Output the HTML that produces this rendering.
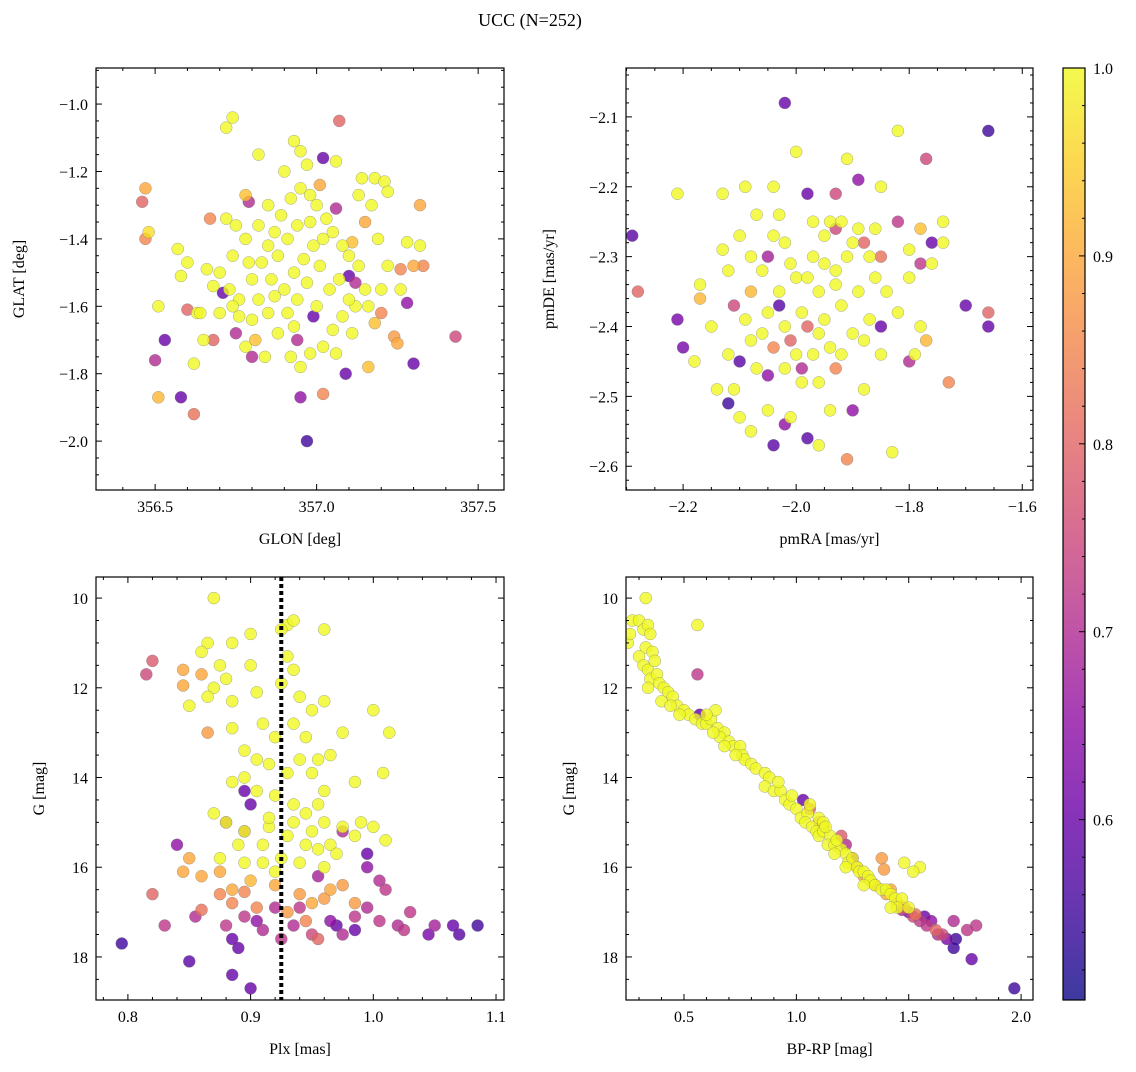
<!DOCTYPE html>
<html><head><meta charset="utf-8">
<style>
body{margin:0;background:#fff;}
svg text{font-family:"Liberation Serif","DejaVu Serif",serif;fill:#000;}
</style></head>
<body>
<svg id="fig" width="1136" height="1067" viewBox="0 0 1136 1067" xmlns="http://www.w3.org/2000/svg">
<text x="530" y="26" font-size="18" text-anchor="middle">UCC (N=252)</text>
</svg>
<script>
// ---- Panel 1: GLON / GLAT ----
const glonX=[356.47,356.46,356.47,356.48,356.50,356.53,356.51,356.58,356.62,356.60,356.51,356.57,356.58,356.63,356.62,356.65,356.67,356.68,356.72,356.74,356.71,356.75,356.79,356.78,356.82,356.93,356.95,356.94,356.97,356.95,356.99,357.02,357.07,357.02,357.06,357.10,357.09,357.12,357.11,357.15,357.16,357.18,357.20,357.24,357.25,357.26,357.30,357.28,357.30,357.33,357.32,357.43,357.01,356.81,356.80,
356.72,356.75,356.78,356.74,356.70,356.66,356.68,356.73,356.76,356.74,356.80,356.83,356.85,356.87,356.89,356.92,356.95,356.98,357.00,357.03,357.05,357.08,357.10,357.13,357.15,357.12,357.08,357.05,357.02,356.98,356.95,356.92,356.88,356.85,356.82,356.80,356.78,356.84,356.90,356.93,356.96,356.99,357.01,356.97,356.94,356.91,356.88,356.86,357.04,357.07,357.10,357.14,357.18,357.21,357.22,357.17,357.19,357.22,357.26,357.28,357.32,357.20,357.16,356.60,356.64,356.85,356.90,356.97,357.06,357.13,356.82,356.79,356.91,356.94,356.98,357.02,356.87,357.00,356.93,357.06,357.11,356.76,356.70];
const glatY=[-1.25,-1.29,-1.40,-1.38,-1.76,-1.70,-1.87,-1.87,-1.92,-1.61,-1.60,-1.43,-1.51,-1.62,-1.77,-1.70,-1.34,-1.70,-1.07,-1.04,-1.56,-1.68,-1.29,-1.27,-1.15,-1.11,-1.14,-1.70,-2.00,-1.87,-1.63,-1.16,-1.05,-1.86,-1.31,-1.51,-1.80,-1.53,-1.41,-1.35,-1.78,-1.65,-1.62,-1.69,-1.71,-1.49,-1.77,-1.59,-1.48,-1.48,-1.30,-1.69,-1.24,-1.70,-1.75,
-1.34,-1.36,-1.40,-1.45,-1.50,-1.49,-1.54,-1.55,-1.58,-1.60,-1.52,-1.47,-1.42,-1.38,-1.33,-1.28,-1.25,-1.27,-1.30,-1.34,-1.38,-1.42,-1.45,-1.48,-1.55,-1.60,-1.63,-1.67,-1.72,-1.74,-1.78,-1.75,-1.68,-1.62,-1.58,-1.64,-1.72,-1.75,-1.55,-1.50,-1.46,-1.42,-1.48,-1.53,-1.58,-1.62,-1.45,-1.52,-1.55,-1.52,-1.58,-1.22,-1.22,-1.23,-1.26,-1.30,-1.40,-1.48,-1.55,-1.41,-1.42,-1.55,-1.60,-1.47,-1.62,-1.30,-1.20,-1.18,-1.17,-1.27,-1.36,-1.47,-1.40,-1.36,-1.35,-1.40,-1.57,-1.60,-1.66,-1.74,-1.68,-1.63,-1.62];
const glonP=[0.9,0.8,0.85,0.97,0.7,0.6,0.92,0.6,0.82,0.8,1,1,1,1,1,1,0.85,0.8,1,1,0.6,0.7,0.7,0.93,1,1,1,0.7,0.55,0.65,0.6,0.6,0.8,0.85,0.7,0.6,0.6,0.7,0.93,0.9,0.93,0.93,0.85,0.88,0.9,0.85,0.6,0.65,0.9,0.85,0.9,0.75,0.9,0.93,0.7];

// ---- Panel 2: pmRA / pmDE ----
const pmraX=[-2.29,-2.28,-2.21,-2.20,-2.10,-2.12,-2.11,-2.02,-1.98,-1.93,-1.89,-1.77,-1.66,-1.82,-1.78,-1.76,-1.70,-1.66,-1.66,-1.73,-1.85,-1.85,-1.80,-2.05,-2.05,-2.03,-1.99,-2.02,-2.04,-1.98,-1.91,-1.90,-1.88,-1.93,-2.01,-2.04,-1.93,-1.78,-2.08,-2.17,-1.77,-1.98,
-2.21,-2.13,-2.09,-2.04,-2.00,-1.91,-1.85,-1.82,-1.74,-1.76,-1.80,-1.82,-1.84,-1.79,-1.78,-1.83,-1.88,-1.94,-1.96,-2.01,-2.05,-2.08,-2.11,-2.10,-2.14,-2.18,-2.17,-2.12,-2.10,-2.07,-2.03,-2.02,-2.06,-2.00,-1.97,-1.95,-1.92,-1.90,-1.87,-1.93,-1.96,-1.99,-2.02,-2.06,-2.08,-2.05,-1.95,-1.92,-1.89,-1.86,-1.90,-1.94,-1.97,-2.00,-1.99,-1.96,-1.92,-1.87,-2.03,-1.98,-1.95,-2.01,-1.94,-1.97,-2.04,-2.08,-2.13,-2.15,-2.12,-1.91,-1.88,-1.85,-2.07,-2.09,-2.02,-1.96,-1.93,-1.89,-1.86,-1.80,-1.74];
const pmdeY=[-2.27,-2.35,-2.39,-2.43,-2.45,-2.51,-2.37,-2.08,-2.21,-2.21,-2.19,-2.16,-2.12,-2.25,-2.31,-2.28,-2.37,-2.38,-2.40,-2.48,-2.40,-2.30,-2.45,-2.47,-2.30,-2.37,-2.46,-2.54,-2.57,-2.56,-2.59,-2.52,-2.28,-2.26,-2.42,-2.43,-2.46,-2.26,-2.35,-2.36,-2.42,-2.40,
-2.21,-2.21,-2.20,-2.20,-2.15,-2.16,-2.20,-2.12,-2.25,-2.31,-2.33,-2.38,-2.35,-2.44,-2.40,-2.58,-2.49,-2.52,-2.57,-2.53,-2.52,-2.55,-2.49,-2.53,-2.49,-2.45,-2.34,-2.32,-2.27,-2.24,-2.24,-2.28,-2.32,-2.33,-2.30,-2.27,-2.25,-2.28,-2.30,-2.32,-2.35,-2.38,-2.40,-2.41,-2.42,-2.38,-2.39,-2.37,-2.35,-2.33,-2.41,-2.43,-2.44,-2.44,-2.48,-2.48,-2.44,-2.39,-2.35,-2.33,-2.31,-2.31,-2.25,-2.25,-2.27,-2.30,-2.29,-2.40,-2.44,-2.30,-2.42,-2.44,-2.46,-2.39,-2.46,-2.41,-2.34,-2.26,-2.26,-2.29,-2.28];
const pmP=[0.58,0.8,0.62,0.62,0.58,0.55,0.75,0.6,0.6,0.75,0.65,0.75,0.55,0.72,0.72,0.6,0.6,0.8,0.6,0.85,0.6,0.82,0.7,0.65,0.68,0.58,0.7,0.65,0.58,0.58,0.85,0.65,0.8,0.75,0.8,0.85,0.85,0.93,0.92,0.92,0.92,0.8];

// ---- Panel 3: Plx / G ----
const plxX=[0.87,0.90,0.93,0.935,0.96,0.925,0.885,0.865,0.86,0.875,0.90,0.93,0.935,0.925,0.88,0.87,0.865,0.85,0.885,0.905,0.94,0.95,0.96,0.935,0.91,0.885,0.92,0.945,0.955,0.975,1.00,1.013,0.895,0.905,0.915,0.93,0.94,0.95,0.96,0.985,1.008,0.885,0.895,0.905,0.92,0.935,0.945,0.96,0.975,0.99,1.0,1.01,0.87,0.88,0.895,0.915,0.93,0.945,0.955,0.965,0.985,0.97,0.925,0.91,0.89,0.875,0.895,0.94,0.91,0.955,0.965,0.915,0.95,0.92,0.96,0.935,
0.845,0.86,0.845,0.865,0.85,0.845,0.86,0.875,0.885,0.90,0.92,0.94,0.95,0.96,0.965,0.975,0.985,0.905,0.885,0.895,0.86,0.875,0.93,0.945,0.955,0.95,0.82,0.82,0.815,
0.795,0.83,0.84,0.85,0.855,0.88,0.89,0.885,0.885,0.895,0.90,0.905,0.91,0.92,0.925,0.935,0.94,0.955,0.965,0.975,0.985,0.985,0.995,1.005,1.005,1.01,1.02,1.025,1.03,1.045,1.05,1.065,1.07,1.085,0.995,0.995,0.975,0.895,0.90,0.97,0.88,0.895];
const plxG=[10.0,10.8,10.6,10.5,10.7,10.7,11.0,11.0,11.2,11.5,11.5,11.3,11.6,11.9,11.8,12.0,12.2,12.4,12.3,12.1,12.2,12.5,12.3,12.8,12.8,12.9,13.1,13.1,13.6,13.0,12.5,13.0,13.4,13.6,13.7,13.9,13.6,13.9,14.3,14.1,13.9,14.1,14.0,14.3,14.4,14.6,14.8,15.0,15.1,15.0,15.1,15.4,14.8,15.0,15.2,15.1,15.3,15.5,15.6,15.5,15.3,15.7,15.8,15.5,15.5,15.8,15.9,15.9,15.9,14.6,13.5,14.9,15.2,16.1,16.0,15.0,
11.6,11.7,11.95,13.0,15.8,16.1,16.2,16.1,16.5,16.3,16.4,16.6,16.8,16.7,16.5,16.4,16.8,16.9,16.8,16.55,16.95,16.6,17.0,17.2,17.6,17.5,16.6,11.4,11.7,
17.7,17.3,15.5,18.1,17.1,17.3,17.8,17.6,18.4,17.1,18.7,17.2,17.4,16.9,17.6,17.3,16.9,16.2,17.2,17.5,17.1,17.4,16.9,17.2,16.3,16.5,17.3,17.4,17.0,17.5,17.3,17.3,17.5,17.3,15.7,16.0,15.2,14.3,14.6,17.3,15.0,15.2];
const plxP=[1,1,1,1,1,1,1,1,1,1,1,1,1,1,1,1,1,1,1,1,1,1,1,1,1,1,1,1,1,1,1,1,1,1,1,1,1,1,1,1,1,1,1,1,1,1,1,1,1,1,1,1,1,1,1,1,1,1,1,1,1,1,1,1,1,1,1,1,1,1,1,1,1,1,1,1,
0.9,0.9,0.9,0.88,0.9,0.9,0.9,0.9,0.9,0.92,0.9,0.88,0.9,0.88,0.9,0.88,0.88,0.85,0.85,0.85,0.82,0.85,0.88,0.85,0.8,0.75,0.8,0.78,0.75,
0.55,0.72,0.65,0.58,0.7,0.72,0.6,0.6,0.6,0.72,0.6,0.65,0.7,0.7,0.72,0.7,0.72,0.68,0.65,0.7,0.72,0.6,0.7,0.72,0.7,0.72,0.7,0.72,0.72,0.62,0.68,0.6,0.58,0.55,0.6,0.65,0.7,0.6,0.6,0.6,0.7,0.72];

// ---- Panel 4: BP-RP / G ----
const bprpX=[0.33,0.27,0.30,0.25,0.32,0.34,0.35,0.33,0.30,0.36,0.32,0.34,0.37,0.35,0.38,0.39,0.34,0.41,0.43,0.40,0.45,0.47,0.44,0.50,0.52,0.55,0.48,0.58,0.60,0.62,0.64,0.65,0.68,0.66,0.70,0.72,0.68,0.75,0.76,0.77,0.80,0.82,0.86,0.88,0.86,0.90,0.93,0.95,0.97,0.98,1.00,1.02,1.05,1.04,1.07,1.09,1.10,1.12,1.15,1.14,1.17,1.20,1.22,1.23,1.25,1.27,1.28,1.30,1.32,1.33,1.35,1.38,1.40,1.42,1.44,1.47,1.45,1.50,1.55,1.48,1.52,1.06,1.10,1.12,1.18,1.13,0.56,0.60,0.63,0.73,0.92,1.17,1.22,1.30,1.42,0.26,
0.56,0.57,1.03,1.06,1.10,1.20,1.22,1.25,1.30,1.35,1.40,1.45,1.38,1.39,1.47,1.50,1.52,1.55,1.57,1.58,1.60,1.62,1.63,1.65,1.67,1.70,1.71,1.70,1.76,1.80,1.78,1.97,1.42,1.33,1.48,1.27,1.53,1.12];
const bprpG=[10.0,10.5,10.5,11.0,10.7,10.6,10.8,11.1,11.3,11.2,11.5,11.6,11.4,11.8,11.7,11.9,12.0,12.0,12.1,12.3,12.2,12.4,12.4,12.5,12.6,12.7,12.6,12.8,12.8,12.7,12.5,12.9,13.0,13.1,13.2,13.3,13.3,13.3,13.5,13.6,13.7,13.8,13.9,14.0,14.2,14.3,14.3,14.5,14.6,14.4,14.7,14.9,14.8,15.0,15.1,15.2,15.3,15.2,15.3,15.5,15.5,15.6,15.7,15.9,15.8,16.0,16.1,16.1,16.2,16.3,16.4,16.5,16.5,16.6,16.7,16.7,16.9,16.9,16.0,15.9,16.1,14.6,14.9,15.0,15.4,15.1,10.6,12.6,13.0,13.5,14.1,15.7,16.0,16.4,16.9,10.8,
11.7,12.6,14.5,14.7,15.0,15.3,15.5,15.8,16.2,16.4,16.6,16.8,15.8,16.05,16.95,17.0,17.1,17.2,17.1,17.3,17.2,17.4,17.5,17.5,17.6,17.2,17.6,17.8,17.4,17.3,18.05,18.7,16.5,16.3,16.9,16.0,17.05,15.1];
const bprpP=[1,1,1,1,1,1,1,1,1,1,1,1,1,1,1,1,1,1,1,1,1,1,1,1,1,1,1,1,1,1,1,1,1,1,1,1,1,1,1,1,1,1,1,1,1,1,1,1,1,1,1,1,1,1,1,1,1,1,1,1,1,1,1,1,1,1,1,1,1,1,1,1,1,1,1,1,1,1,1,1,1,1,1,1,1,1,1,1,1,1,1,1,1,1,1,1,
0.72,0.6,0.6,0.8,0.85,0.78,0.7,0.65,0.88,0.88,0.9,0.88,0.88,0.88,0.7,0.62,0.75,0.72,0.6,0.72,0.65,0.8,0.7,0.75,0.62,0.7,0.55,0.55,0.72,0.72,0.6,0.55,0.9,0.9,0.8,0.88,0.82,0.82];

const cbTicks=[0.6,0.7,0.8,0.9,1.0];
const plxCut=0.925;

const NS="http://www.w3.org/2000/svg";
const svg=document.getElementById('fig');
const VMIN=0.504,VMAX=1.0;
const stops=[[13,8,135],[65,4,157],[106,0,168],[143,13,164],[177,42,144],[204,71,120],[225,100,98],[242,132,75],[252,166,54],[252,206,37],[240,249,33]];
function cmap(v){if(typeof v!=='number'||isNaN(v))v=1;let t=(v-VMIN)/(VMAX-VMIN);t=Math.max(0,Math.min(1,t));const f=t*10,i=Math.min(9,Math.floor(f)),r=f-i;
 const a=stops[i],b=stops[i+1];return `rgb(${a.map((c,k)=>Math.round(c+(b[k]-c)*r)).join(',')})`;}
function el(tag,attrs,parent){const e=document.createElementNS(NS,tag);for(const k in attrs)e.setAttribute(k,attrs[k]);(parent||svg).appendChild(e);return e;}
function fmt(v,d){return (v<0?'\u2212':'')+Math.abs(v).toFixed(d);}

function panel(o){
 const g=el('g',{});
 
 
 const sx=v=>o.L+(v-o.x0)/(o.x1-o.x0)*(o.R-o.L);
 const sy=v=>o.T+(v-o.y1)/(o.y0-o.y1)*(o.B-o.T);
 const clipId='c'+o.name;
 const cp=el('clipPath',{id:clipId},g);el('rect',{x:o.L,y:o.T,width:o.R-o.L,height:o.B-o.T},cp);
 const pg=el('g',{'clip-path':`url(#${clipId})`},g);
 const n=Math.min(o.xs.length,o.ys.length);
 const pv=i=>(typeof o.ps[i]==='number'?o.ps[i]:1);
 const idx=[];for(let i=0;i<n;i++)idx.push(i);
 idx.sort((a,b)=>pv(a)-pv(b));
 idx.forEach(i=>{const c=el('circle',{cx:sx(o.xs[i]),cy:sy(o.ys[i]),r:6,fill:cmap(pv(i)),'fill-opacity':0.8,stroke:'#777','stroke-width':0.4,'stroke-opacity':0.8},pg);
  
  });
 if(o.vline!==undefined){const l=el('line',{x1:sx(o.vline),x2:sx(o.vline),y1:o.T,y2:o.B,stroke:'#000','stroke-width':4,'stroke-dasharray':'4,3'},pg);
  
  }
 const fr=el('rect',{x:o.L,y:o.T,width:o.R-o.L,height:o.B-o.T,fill:'none',stroke:'#000','stroke-width':1.2},g);
 
 
 const tk=el('g',{stroke:'#000','stroke-width':1},g);
 const eps=1e-9;
 const xlo=Math.min(o.x0,o.x1),xhi=Math.max(o.x0,o.x1);
 for(let k=Math.ceil(xlo/o.xmin-eps);k*o.xmin<=xhi+eps;k++){const v=k*o.xmin,X=sx(v);
  const maj=Math.abs(v/o.xmaj-Math.round(v/o.xmaj))<1e-6,len=maj?6:3;
  el('line',{x1:X,x2:X,y1:o.B,y2:o.B-len},tk);el('line',{x1:X,x2:X,y1:o.T,y2:o.T+len},tk);
  if(maj){const t=el('text',{x:X,y:o.B+22,'font-size':16,'text-anchor':'middle'},g);t.textContent=fmt(v,o.xd);
   }}
 const ylo=Math.min(o.y0,o.y1),yhi=Math.max(o.y0,o.y1);
 for(let k=Math.ceil(ylo/o.ymin-eps);k*o.ymin<=yhi+eps;k++){const v=k*o.ymin,Y=sy(v);
  const maj=Math.abs(v/o.ymaj-Math.round(v/o.ymaj))<1e-6,len=maj?6:3;
  el('line',{x1:o.L,x2:o.L+len,y1:Y,y2:Y},tk);el('line',{x1:o.R,x2:o.R-len,y1:Y,y2:Y},tk);
  if(maj){const t=el('text',{x:o.L-8,y:Y+6,'font-size':16,'text-anchor':'end'},g);t.textContent=fmt(v,o.yd);
   }}
 const xl=el('text',{x:(o.L+o.R)/2,y:o.B+54,'font-size':16,'text-anchor':'middle'},g);xl.textContent=o.xlab;
 
 const yl=el('text',{x:0,y:0,'font-size':16,'text-anchor':'middle',transform:`translate(${o.ylx},${(o.T+o.B)/2}) rotate(-90)`},g);yl.textContent=o.ylab;
 
}

panel({name:'glon-glat-panel',L:96,R:504,T:68,B:490,x0:356.317,x1:357.58,y0:-2.145,y1:-0.893,xmaj:0.5,xmin:0.1,ymaj:0.2,ymin:0.05,xd:1,yd:1,xs:glonX,ys:glatY,ps:glonP,xlab:'GLON [deg]',ylab:'GLAT [deg]',ylx:24});
panel({name:'proper-motion-panel',L:626,R:1033,T:68,B:490,x0:-2.301,x1:-1.581,y0:-2.634,y1:-2.030,xmaj:0.2,xmin:0.05,ymaj:0.1,ymin:0.02,xd:1,yd:1,xs:pmraX,ys:pmdeY,ps:pmP,xlab:'pmRA [mas/yr]',ylab:'pmDE [mas/yr]',ylx:554});
panel({name:'plx-g-panel',L:96,R:504,T:577,B:1000,x0:0.774,x1:1.1065,y0:18.96,y1:9.53,xmaj:0.1,xmin:0.02,ymaj:2,ymin:0.5,xd:1,yd:0,xs:plxX,ys:plxG,ps:plxP,xlab:'Plx [mas]',ylab:'G [mag]',ylx:44,vline:plxCut});
panel({name:'cmd-panel',L:626,R:1033,T:577,B:1000,x0:0.242,x1:2.053,y0:18.96,y1:9.53,xmaj:0.5,xmin:0.1,ymaj:2,ymin:0.5,xd:1,yd:0,xs:bprpX,ys:bprpG,ps:bprpP,xlab:'BP-RP [mag]',ylab:'G [mag]',ylx:574});

// colorbar
(function(){
 const L=1063,R=1085,T=68,B=1000;
 const g=el('g',{});
 
 
 const defs=el('defs',{},g);const lg=el('linearGradient',{id:'cbg',x1:0,y1:1,x2:0,y2:0},defs);
 for(let i=0;i<=20;i++){const v=VMIN+(VMAX-VMIN)*i/20;el('stop',{offset:i/20,'stop-color':cmap(v),'stop-opacity':0.8},lg);}
 el('rect',{x:L,y:T,width:R-L,height:B-T,fill:'url(#cbg)',stroke:'#000','stroke-width':1.2},g);
 const sy=v=>B-(v-VMIN)/(VMAX-VMIN)*(B-T);
 for(let k=Math.ceil(VMIN/0.02);k*0.02<=VMAX+1e-9;k++){const v=k*0.02,Y=sy(v);
  const maj=Math.abs(v*10-Math.round(v*10))<1e-6;
  el('line',{x1:R,x2:R-(maj?6:3),y1:Y,y2:Y,stroke:'#000','stroke-width':1},g);}
 cbTicks.forEach(v=>{const t=el('text',{x:R+8,y:sy(v)+6,'font-size':16},g);t.textContent=v.toFixed(1);
  });
})();
</script>
</body></html>
